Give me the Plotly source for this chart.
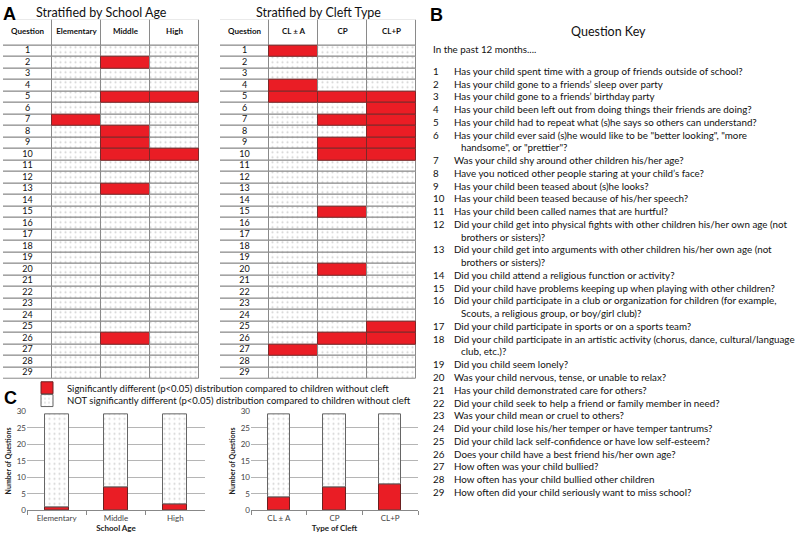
import plotly.graph_objects as go

W, H = 800, 541
def px(x): return x / W
def py(y): return 1 - y / H

RED = "#EA1D25"
GRID = "#8a8a8a"
FONT = "Lato"

questions = list(range(1, 30))
school_cols = ["Elementary", "Middle", "High"]
sig_elementary = [7]
sig_middle = [2, 5, 8, 9, 10, 13, 26]
sig_high = [5, 10]
cleft_cols = ["CL ± A", "CP", "CL+P"]
sig_cla = [1, 4, 5, 27]
sig_cp = [5, 7, 9, 10, 15, 20, 26]
sig_clp = [5, 6, 7, 8, 9, 10, 25, 26]
total_questions = 29
school_counts = [1, 7, 2]
cleft_counts = [4, 7, 8]

question_key = [
    ("1", "Has your child spent time with a group of friends outside of school?"),
    ("2", "Has your child gone to a friends\u2019 sleep over party"),
    ("3", "Has your child gone to a friends\u2019 birthday party"),
    ("4", "Has your child been left out from doing things their friends are doing?"),
    ("5", "Has your child had to repeat what (s)he says so others can understand?"),
    ("6", "Has your child ever said (s)he would like to be \"better looking\", \"more", "handsome\", or \"prettier\"?"),
    ("7", "Was your child shy around other children his/her age?"),
    ("8", "Have you noticed other people staring at your child\u2019s face?"),
    ("9", "Has your child been teased about (s)he looks?"),
    ("10", "Has your child been teased because of his/her speech?"),
    ("11", "Has your child been called names that are hurtful?"),
    ("12", "Did your child get into physical fights with other children his/her own age (not", "brothers or sisters)?"),
    ("13", "Did your child get into arguments with other children his/her own age (not", "brothers or sisters)?"),
    ("14", "Did you child attend a religious function or activity?"),
    ("15", "Did your child have problems keeping up when playing with other children?"),
    ("16", "Did your child participate in a club or organization for children (for example,", "Scouts, a religious group, or boy/girl club)?"),
    ("17", "Did your child participate in sports or on a sports team?"),
    ("18", "Did your child participate in an artistic activity (chorus, dance, cultural/language", "club, etc.)?"),
    ("19", "Did you child seem lonely?"),
    ("20", "Was your child nervous, tense, or unable to relax?"),
    ("21", "Has your child demonstrated care for others?"),
    ("22", "Did your child seek to help a friend or family member in need?"),
    ("23", "Was your child mean or cruel to others?"),
    ("24", "Did your child lose his/her temper or have temper tantrums?"),
    ("25", "Did your child lack self-confidence or have low self-esteem?"),
    ("26", "Does your child have a best friend his/her own age?"),
    ("27", "How often was your child bullied?"),
    ("28", "How often has your child bullied other children"),
    ("29", "How often did your child seriously want to miss school?"),
]

HEADER_H = 2.22
dot_pattern = dict(shape=".", size=5, solidity=0.14, fgcolor="#a8a8a8", bgcolor="white")

fig = go.Figure()

def add_table(xa, ya, cols, sigs):
    xname = "x" if xa == 1 else f"x{xa}"
    yname = "y" if ya == 1 else f"y{ya}"
    allcols = ["Question"] + cols
    fig.add_trace(go.Bar(x=allcols, y=[HEADER_H] * len(allcols), base=[0.5 - HEADER_H] * len(allcols),
                         width=1, marker=dict(color="white", line=dict(color=GRID, width=1)),
                         showlegend=False, hoverinfo="skip", xaxis=xname, yaxis=yname))
    fig.add_trace(go.Scatter(x=allcols, y=[0.5 - HEADER_H / 2] * len(allcols), mode="text",
                             text=[f"<b>{c}</b>" for c in allcols],
                             textfont=dict(size=8, color="#111", family=FONT),
                             showlegend=False, hoverinfo="skip", xaxis=xname, yaxis=yname))
    fig.add_trace(go.Bar(x=["Question"] * len(questions), y=[1] * len(questions),
                         base=[q - 0.5 for q in questions], width=1,
                         marker=dict(color="white", line=dict(color=GRID, width=1)),
                         showlegend=False, hoverinfo="skip", xaxis=xname, yaxis=yname))
    fig.add_trace(go.Scatter(x=["Question"] * len(questions), y=questions, mode="text",
                             text=[str(q) for q in questions],
                             textfont=dict(size=9, color="#111", family=FONT),
                             showlegend=False, hoverinfo="skip", xaxis=xname, yaxis=yname))
    for col, sig in zip(cols, sigs):
        ns = [q for q in questions if q not in sig]
        fig.add_trace(go.Bar(x=[col] * len(ns), y=[1] * len(ns), base=[q - 0.5 for q in ns], width=1,
                             marker=dict(color="white", pattern=dot_pattern, line=dict(color=GRID, width=1)),
                             showlegend=False, hoverinfo="skip", xaxis=xname, yaxis=yname))
        fig.add_trace(go.Bar(x=[col] * len(sig), y=[1] * len(sig), base=[q - 0.5 for q in sig], width=1,
                             marker=dict(color=RED, line=dict(color="#7a2a2a", width=1)),
                             showlegend=False, hoverinfo="skip", xaxis=xname, yaxis=yname))
    fig.update_layout({
        ("xaxis" if xa == 1 else f"xaxis{xa}"): dict(type="category", categoryorder="array", categoryarray=allcols,
                                                      range=[-0.5, len(allcols) - 0.5], visible=False, fixedrange=True),
        ("yaxis" if ya == 1 else f"yaxis{ya}"): dict(range=[29.5, 0.5 - HEADER_H], visible=False, fixedrange=True),
    })

add_table(1, 1, school_cols, [sig_elementary, sig_middle, sig_high])
add_table(2, 2, cleft_cols, [sig_cla, sig_cp, sig_clp])

tbl_y = [py(381), py(15)]
fig.update_layout(
    xaxis=dict(domain=[px(3), px(199)]), yaxis=dict(domain=tbl_y),
    xaxis2=dict(domain=[px(220), px(416)]), yaxis2=dict(domain=tbl_y),
)

def add_bars(xa, ya, cats, counts, legend):
    xname, yname = f"x{xa}", f"y{ya}"
    fig.add_trace(go.Bar(x=cats, y=counts, base=[0] * len(cats), width=0.4,
                         marker=dict(color=RED, line=dict(color="#6a2020", width=1)),
                         name="Significantly different (p<0.05) distribution compared to children without cleft",
                         showlegend=legend, legend="legend", xaxis=xname, yaxis=yname))
    fig.add_trace(go.Bar(x=cats, y=[total_questions - c for c in counts], base=counts, width=0.4,
                         marker=dict(color="white", pattern=dot_pattern, line=dict(color="#666", width=1)),
                         name="NOT significantly different (p<0.05) distribution compared to children without cleft",
                         showlegend=legend, legend="legend2", xaxis=xname, yaxis=yname))

add_bars(3, 3, school_cols, school_counts, True)
add_bars(4, 4, cleft_cols, cleft_counts, False)

bar_y = [py(515), py(414)]
axis_font = dict(size=8, color="#444", family=FONT)
title_font = dict(size=8, color="#222", family=FONT)
for xa, ya, dom, xtitle in [(3, 3, [px(27), px(205)], "School Age"), (4, 4, [px(251), px(418)], "Type of Cleft")]:
    fig.update_layout({
        f"xaxis{xa}": dict(domain=dom, anchor=f"y{ya}", type="category", tickfont=axis_font,
                           title=dict(text=f"<b>{xtitle}</b>", font=title_font, standoff=2),
                           showline=True, linecolor="#888", ticks="outside", tickson="boundaries",
                           ticklen=4, tickcolor="#888", fixedrange=True),
        f"yaxis{ya}": dict(domain=bar_y, anchor=f"x{xa}", range=[0, 30], dtick=5, tickfont=axis_font,
                           title=dict(text="<b>Number of Questions</b>", font=dict(size=7, color="#222", family=FONT), standoff=4),
                           showgrid=True, gridcolor="#b5b5b5", gridwidth=1, zeroline=False,
                           showline=False, ticks="", fixedrange=True),
    })

KEY_SIZE = 9.8
annotations = [
    dict(x=px(101), y=py(8), text="Stratified by School Age", font=dict(size=12.5, color="#111", family=FONT)),
    dict(x=px(318), y=py(8), text="Stratified by Cleft Type", font=dict(size=12.5, color="#111", family=FONT)),
    dict(x=px(1), y=py(9), text="<b>A</b>", font=dict(size=18, color="#000", family="Liberation Sans"), xanchor="left"),
    dict(x=px(428), y=py(10), text="<b>B</b>", font=dict(size=18, color="#000", family="Liberation Sans"), xanchor="left"),
    dict(x=px(2), y=py(400), text="<b>C</b>", font=dict(size=18, color="#000", family="Liberation Sans"), xanchor="left"),
    dict(x=px(608), y=py(27), text="Question Key", font=dict(size=12.5, color="#111", family=FONT)),
    dict(x=px(431), y=py(45), text="In the past 12 months....", font=dict(size=KEY_SIZE, color="#111", family=FONT), xanchor="left"),
]
line_y = 67
LINE_H = 13.0
for item in question_key:
    num, first = item[0], item[1]
    annotations.append(dict(x=px(431), y=py(line_y), text=num, xanchor="left",
                            font=dict(size=KEY_SIZE, color="#111", family=FONT)))
    annotations.append(dict(x=px(452), y=py(line_y), text=first, xanchor="left",
                            font=dict(size=KEY_SIZE, color="#111", family=FONT)))
    line_y += LINE_H
    for cont in item[2:]:
        annotations.append(dict(x=px(459), y=py(line_y), text=cont, xanchor="left",
                                font=dict(size=KEY_SIZE, color="#111", family=FONT)))
        line_y += LINE_H

for a in annotations:
    a.setdefault("xanchor", "center")
    a.update(xref="paper", yref="paper", yanchor="middle", showarrow=False)

legend_common = dict(xanchor="left", yanchor="middle", orientation="v",
                     font=dict(size=9.5, color="#111", family=FONT), bgcolor="rgba(0,0,0,0)",
                     itemwidth=30, borderwidth=0)
fig.update_layout(
    width=W, height=H, margin=dict(l=0, r=0, t=0, b=0),
    paper_bgcolor="white", plot_bgcolor="white",
    barmode="overlay", bargap=0,
    annotations=annotations,
    font=dict(family=FONT),
    legend=dict(x=px(27), y=py(390), **legend_common),
    legend2=dict(x=px(27), y=py(403), **legend_common),
    showlegend=True,
)

fig.write_html("out.html", config={"displayModeBar": False},
               post_script="document.body.style.margin='0';")
